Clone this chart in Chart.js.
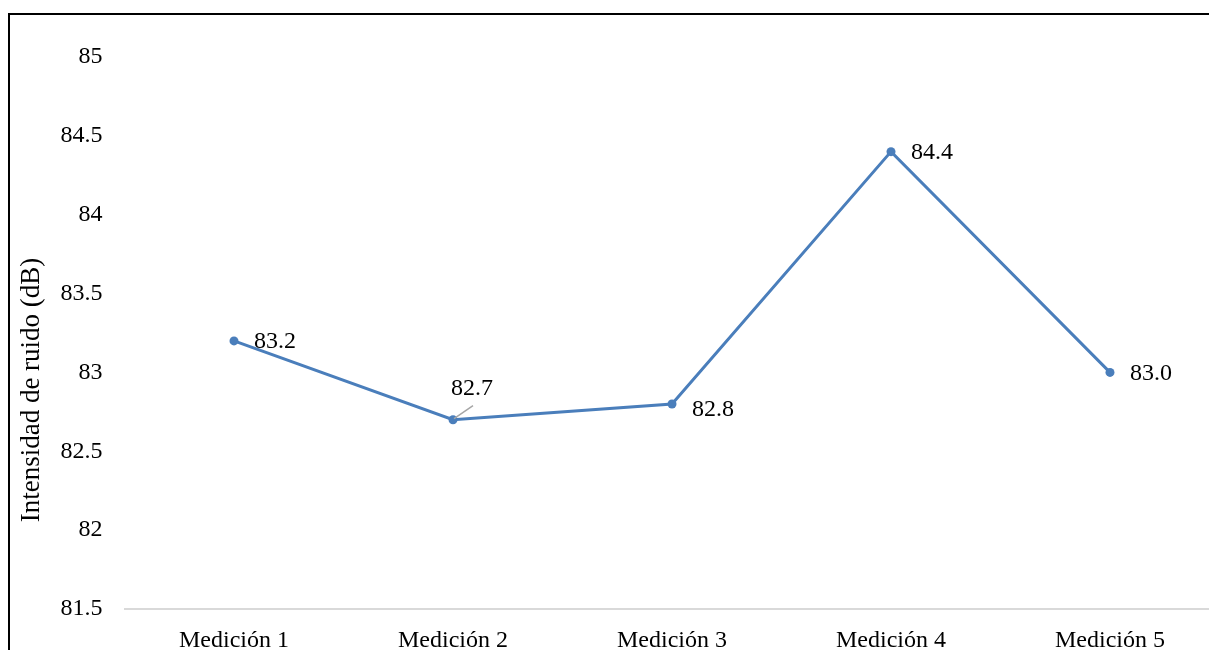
<!DOCTYPE html>
<html>
<head>
<meta charset="utf-8">
<script src="https://cdn.jsdelivr.net/npm/chart.js@4.4.1/dist/chart.umd.min.js"></script>
<style>
  html, body { margin: 0; padding: 0; overflow: hidden; background: #fff; width: 1209px; height: 650px; }
  #wrap { position: absolute; left: 0; top: 0; width: 1230px; height: 700px; }
  #frame { position: absolute; left: 8px; top: 13px; width: 1300px; height: 800px; border: 2px solid #000; box-sizing: border-box; }
</style>
</head>
<body>
<div id="wrap"><canvas id="lineChart" width="1230" height="700"></canvas></div>
<div id="frame"></div>
<script>
const categories = ['Medición 1', 'Medición 2', 'Medición 3', 'Medición 4', 'Medición 5'];
const noise = [83.2, 82.7, 82.8, 84.4, 83.0];
const yTicks = [81.5, 82, 82.5, 83, 83.5, 84, 84.5, 85];
const yTitle = 'Intensidad de ruido (dB)';

const FONT = '"Liberation Serif", "Times New Roman", serif';
const blue = '#4a7ebb';

// where each value label sits relative to its point
const labelPlace = ['right', 'above', 'right', 'right', 'right'];

const valueLabels = {
    id: 'valueLabels',
    afterDatasetsDraw(chart) {
        const c = chart.ctx;
        const pts = chart.getDatasetMeta(0).data;
        c.save();
        c.font = '24px ' + FONT;
        c.fillStyle = '#000';
        pts.forEach((p, i) => {
            const txt = noise[i].toFixed(1);
            if (labelPlace[i] === 'above') {
                c.strokeStyle = '#a6a6a6';
                c.lineWidth = 1.5;
                c.beginPath();
                c.moveTo(p.x + 1, p.y - 1);
                c.lineTo(p.x + 20, p.y - 14);
                c.stroke();
                c.textAlign = 'center';
                c.textBaseline = 'middle';
                c.fillText(txt, p.x + 19, p.y - 31);
            } else {
                c.textAlign = 'left';
                c.textBaseline = 'middle';
                c.fillText(txt, p.x + 20, p.y + 1 + (i === 2 ? 5 : 0));
            }
        });
        // axis title
        const a = chart.chartArea;
        c.font = '27px ' + FONT;
        c.translate(32, (a.top + a.bottom) / 2 + 57);
        c.rotate(-Math.PI / 2);
        c.textAlign = 'center';
        c.textBaseline = 'middle';
        c.fillText(yTitle, 0, 0);
        c.restore();
    }
};

new Chart(document.getElementById('lineChart'), {
    type: 'line',
    data: {
        labels: categories,
        datasets: [{
            label: 'Intensidad',
            data: noise,
            borderColor: blue,
            backgroundColor: blue,
            borderWidth: 3,
            pointRadius: 4.5,
            pointBorderWidth: 0,
            tension: 0
        }]
    },
    options: {
        responsive: false,
        animation: false,
        devicePixelRatio: 1,
        layout: { padding: { top: 57, right: 10.5, left: 0, bottom: 0 } },
        plugins: { legend: { display: false }, tooltip: { enabled: false } },
        scales: {
            x: {
                offset: true,
                grid: { display: false, drawTicks: false },
                border: { display: true, color: '#d9d9d9', width: 2 },
                ticks: { color: '#000', font: { family: FONT, size: 24 }, padding: 17, maxRotation: 0 },
                afterFit: s => { s.height = 91; }
            },
            y: {
                min: 81.5,
                max: 85,
                afterBuildTicks: s => { s.ticks = yTicks.map(v => ({ value: v })); },
                grid: { display: false, drawTicks: false },
                border: { display: false },
                ticks: { color: '#000', font: { family: FONT, size: 24 }, padding: 22, callback: v => String(v) },
                afterFit: s => { s.width = 124.5; }
            }
        }
    },
    plugins: [valueLabels]
});
</script>
</body>
</html>
